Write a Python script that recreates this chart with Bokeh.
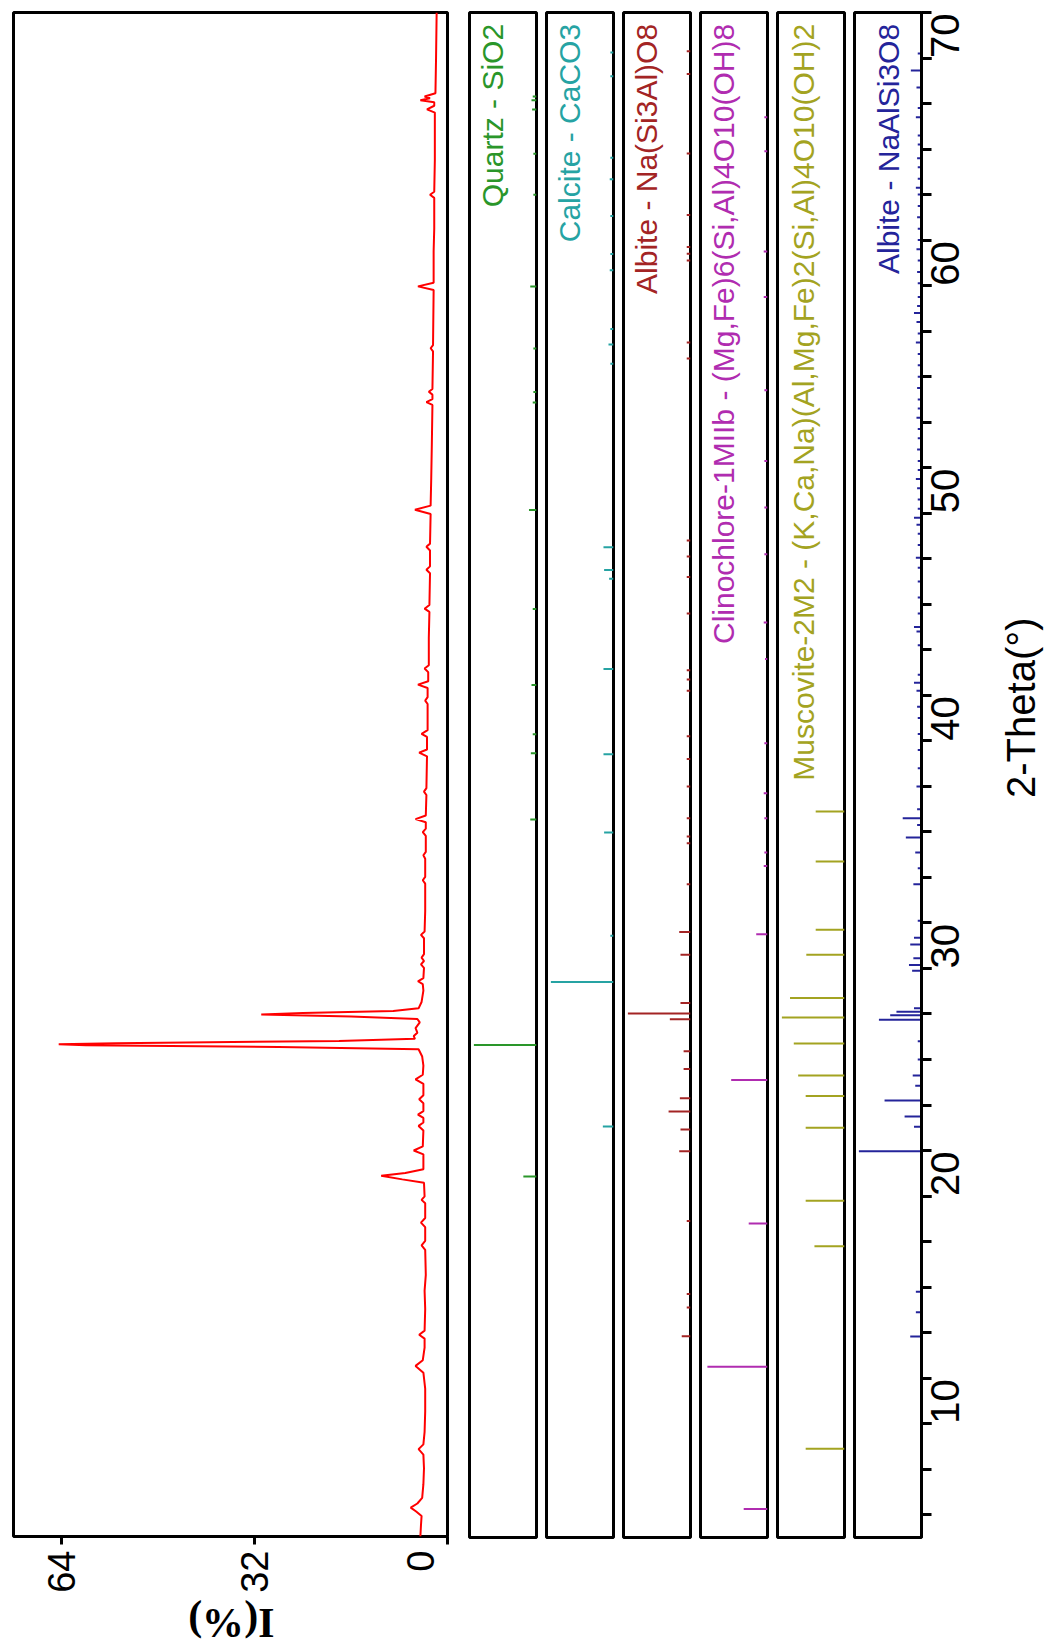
import math
from bokeh.plotting import figure
from bokeh.models import Range1d, Label, SingleIntervalTicker, FixedTicker
from bokeh.layouts import row, column
from bokeh.embed import file_html
from bokeh.resources import INLINE

# ---------------- measured pattern (2-Theta in degrees, intensity in %) ----------------
trace_2theta = [
    5.0, 5.5, 5.9, 6.1, 6.27, 6.45, 6.7, 7.3, 8.0, 8.6,
    8.84, 9.05, 9.6, 10.5, 11.5, 12.2, 12.5, 12.75, 13.3, 13.7,
    13.87, 14.05, 15.0, 15.8, 16.5, 17.6, 17.8, 18.0, 18.6, 18.8,
    19.0, 19.65, 19.8, 19.95, 20.55, 20.7, 20.86, 20.98, 21.15, 21.8,
    21.97, 22.15, 22.85, 23.05, 23.2, 23.4, 23.55, 23.7, 24.05, 24.22,
    24.4, 24.9, 25.1, 25.3, 25.7, 26.1, 26.42, 26.52, 26.6, 26.64,
    26.69, 26.78, 26.88, 27.0, 27.15, 27.35, 27.6, 27.75, 27.86, 27.95,
    28.02, 28.1, 28.22, 28.5, 29.0, 29.28, 29.41, 29.55, 30.0, 30.15,
    30.3, 30.45, 30.6, 31.3, 31.45, 31.6, 32.5, 33.7, 33.85, 34.0,
    34.8, 34.95, 35.1, 35.8, 35.97, 36.12, 36.4, 36.54, 36.7, 37.6,
    37.75, 37.9, 39.3, 39.46, 39.6, 40.15, 40.29, 40.45, 41.6, 41.75,
    41.9, 42.3, 42.45, 42.6, 43.0, 43.16, 43.3, 44.5, 45.65, 45.79,
    45.95, 47.35, 47.5, 47.65, 48.35, 48.51, 48.65, 49.95, 50.14, 50.32,
    51.5, 53.0, 54.75, 54.87, 55.0, 55.2, 55.33, 55.45, 57.1, 57.24,
    57.38, 59.8, 59.96, 60.12, 61.5, 62.5, 63.85, 63.99, 64.12, 65.5,
    67.6, 67.74, 67.9, 68.05, 68.14, 68.23, 68.31, 68.45, 70.0, 72.0,
]
trace_int = [
    4.5, 4.4, 4.3, 5.2, 6.1, 5.0, 4.2, 4.0, 3.9, 4.0,
    4.8, 4.0, 3.8, 3.7, 3.7, 4.0, 5.3, 4.1, 3.8, 3.8,
    4.7, 3.8, 3.7, 3.8, 3.6, 3.7, 4.3, 3.7, 3.7, 4.4,
    3.7, 3.7, 4.3, 3.8, 3.9, 7.5, 11.0, 7.0, 4.0, 4.0,
    5.6, 4.1, 4.0, 4.8, 4.0, 4.0, 4.9, 4.0, 4.0, 4.7,
    4.0, 4.0, 5.3, 4.1, 4.0, 4.2, 4.8, 28.0, 60.0, 64.5,
    55.0, 18.0, 5.4, 5.6, 5.0, 5.3, 4.6, 5.0, 16.0, 30.9,
    24.0, 9.0, 4.8, 4.3, 4.0, 4.1, 4.9, 4.0, 3.9, 4.4,
    3.9, 4.3, 3.9, 3.9, 4.4, 3.8, 3.7, 3.7, 4.1, 3.7,
    3.7, 4.0, 3.6, 3.6, 4.1, 3.6, 3.6, 5.3, 3.6, 3.5,
    3.9, 3.5, 3.4, 4.7, 3.4, 3.4, 4.3, 3.3, 3.3, 3.7,
    3.3, 3.3, 4.9, 3.2, 3.2, 3.8, 3.1, 3.1, 3.0, 3.8,
    3.0, 2.9, 3.5, 2.9, 2.9, 3.5, 2.9, 2.8, 5.4, 2.8,
    2.7, 2.6, 2.5, 3.5, 2.5, 2.5, 3.1, 2.5, 2.4, 2.8,
    2.4, 2.3, 4.9, 2.3, 2.3, 2.2, 2.2, 2.9, 2.2, 2.1,
    2.1, 3.4, 2.2, 2.2, 4.5, 2.9, 3.8, 2.0, 1.9, 1.8,
]

# ---------------- reference stick patterns (2-Theta, relative intensity) ----------------
quartz_2theta = [20.86, 26.64, 36.54, 39.46, 40.29, 42.45, 45.79, 50.14, 54.87, 55.33,
                 57.24, 59.96, 63.99, 65.79, 67.74, 68.14, 68.31]
quartz_int = [21, 100, 10, 9, 6, 8, 6, 12, 6, 5,
              5, 10, 5, 5, 7, 8, 6]

calcite_2theta = [23.06, 29.41, 31.44, 35.97, 39.41, 43.16, 47.12, 47.51, 48.51, 56.57,
                  57.41, 58.10, 60.68, 61.39, 63.06, 64.67, 65.62, 69.20, 70.24]
calcite_int = [17, 100, 5, 15, 16, 16, 7, 15, 16, 5,
               8, 5, 6, 5, 5, 6, 5, 5, 5]

albite1_2theta = [13.84, 15.1, 15.7, 18.9, 21.97, 22.92, 23.72, 24.3, 25.58, 26.36,
                  27.77, 28.02, 28.48, 30.6, 31.6, 33.7, 35.5, 35.8, 36.6, 38.0,
                  39.2, 40.2, 42.2, 42.7, 43.1, 45.6, 47.2, 48.1, 48.8, 56.8,
                  57.5, 61.1, 61.4, 61.7, 63.1, 65.8, 69.3, 70.3]
albite1_int = [14, 6, 6, 6, 18, 16, 35, 17, 11, 11,
               33, 100, 16, 16, 18, 6, 6, 6, 6, 6,
               6, 6, 6, 6, 6, 6, 6, 6, 6, 6,
               6, 6, 6, 6, 6, 6, 6, 6]

clino_2theta = [6.25, 12.5, 18.8, 25.1, 31.5, 34.5, 35.1, 36.6, 37.7, 39.9,
                43.6, 45.2, 48.2, 50.25, 52.3, 55.4, 59.5, 61.5, 65.9, 67.4]
clino_int = [38, 96, 30, 58, 18, 6, 5, 5, 6, 5,
             4, 6, 5, 5, 5, 5, 6, 6, 5, 5]

musc_2theta = [8.9, 17.8, 19.8, 23.0, 24.4, 25.3, 26.7, 27.85, 28.7, 30.6,
               31.7, 34.7, 36.9]
musc_int = [62, 48, 62, 62, 62, 74, 81, 100, 87, 61,
            46, 46, 46]

albite2_2theta = [13.83, 14.9, 15.8, 21.97, 23.05, 23.5, 24.2, 24.85, 25.3, 26.0,
                  26.8, 27.75, 27.95, 28.1, 28.25, 29.9, 30.15, 30.45, 31.05, 31.35,
                  32.1, 33.7, 34.4, 35.1, 35.75, 36.3, 36.6, 37.0, 38.0, 38.8,
                  39.6, 40.3, 41.0, 41.5, 42.2, 42.55, 42.9, 44.2, 44.8, 45.0,
                  45.6, 46.3, 47.0, 47.6, 48.05, 48.6, 49.1, 49.5, 49.8, 50.2,
                  50.6, 51.1, 51.5, 51.9, 52.3, 52.8, 53.3, 53.7, 54.2, 54.6,
                  55.0, 55.5, 56.0, 56.5, 57.0, 57.5, 57.9, 58.4, 58.8, 59.1,
                  59.5, 60.1, 60.6, 61.1, 61.6, 62.0, 62.5, 63.0, 63.5, 64.0,
                  64.3, 64.7, 65.2, 65.6, 66.2, 66.6, 67.4, 67.8, 68.7, 69.45,
                  70.2]
albite2_int = [18, 9, 9, 100, 12, 27, 59, 10, 14, 6,
               6, 68, 50, 40, 12, 15, 20, 13, 18, 12,
               6, 13, 6, 10, 25, 7, 30, 7, 8, 6,
               6, 6, 6, 7, 8, 12, 6, 6, 8, 12,
               6, 6, 6, 6, 9, 6, 6, 8, 12, 6,
               6, 7, 9, 6, 6, 7, 6, 6, 8, 6,
               6, 7, 6, 6, 6, 9, 6, 8, 12, 7,
               6, 6, 7, 6, 8, 6, 6, 7, 6, 6,
               9, 6, 6, 7, 6, 6, 9, 6, 8, 17,
               6]

phase_labels = ["Quartz - SiO2", "Calcite - CaCO3", "Albite - Na(Si3Al)O8",
                "Clinochlore-1MIIb - (Mg,Fe)6(Si,Al)4O10(OH)8",
                "Muscovite-2M2 - (K,Ca,Na)(Al,Mg,Fe)2(Si,Al)4O10(OH)2",
                "Albite - NaAlSi3O8"]
phase_colors = ["#2a962a", "#26a3a3", "#a32424", "#b02cb0", "#a3a321", "#24249a"]

# intensity axis: tick marks at 0, 32, 64; the "0" label sits a little inside the panel
intensity_tick_marks = [0, 32, 64]
intensity_label_pos = [4.5, 32, 64]
intensity_tick_labels = {4.5: "0", 32: "32", 64: "64"}

x_title = "2-Theta(°)"
y_title = "I(%)"

# ---------------- layout / style ----------------
H = 1649
TOP = 12
FRAME_H = 1525
BOTTOM = H - TOP - FRAME_H          # 112
MAIN_BOTTOM = 58
ITITLE_H = BOTTOM - MAIN_BOTTOM     # 54
Y_RANGE = Range1d(5.0, 72.0)
PX_PER_DEG = FRAME_H / (72.0 - 5.0)
FONT = "Liberation Sans"


def style(p):
    p.xgrid.grid_line_color = None
    p.ygrid.grid_line_color = None
    p.background_fill_color = "white"
    p.border_fill_color = "white"
    return p


def base_fig(width, height, x_range, left, right, bottom, y_axis=None, x_axis=None):
    p = figure(width=width, height=height, x_range=x_range, y_range=Y_RANGE,
               output_backend="svg", toolbar_location=None, tools="",
               min_border_left=left, min_border_right=right,
               min_border_top=TOP, min_border_bottom=bottom,
               x_axis_location=x_axis, y_axis_location=y_axis)
    style(p)
    p.outline_line_color = "black"
    p.outline_line_width = 3
    p.outline_line_alpha = 1
    return p


def blank_fig(width, height, x_range, y_range):
    p = figure(width=width, height=height, x_range=x_range, y_range=y_range,
               output_backend="svg", toolbar_location=None, tools="",
               min_border=0, x_axis_location=None, y_axis_location=None)
    style(p)
    p.outline_line_color = None
    return p


# main pattern panel (intensity increases to the left)
MAIN_W = 458
main = base_fig(MAIN_W, TOP + FRAME_H + MAIN_BOTTOM, Range1d(72, 0), 13, 11, MAIN_BOTTOM,
                y_axis=None, x_axis="below")
main.line(trace_int, trace_2theta, line_color="#ff0000", line_width=2)
ax = main.xaxis[0]
ax.ticker = FixedTicker(ticks=intensity_label_pos, minor_ticks=intensity_tick_marks)
ax.major_label_overrides = intensity_tick_labels
ax.major_label_orientation = math.pi / 2
ax.major_label_text_font = FONT
ax.major_label_text_font_size = "38px"
ax.major_label_text_color = "black"
ax.major_label_standoff = 6
ax.major_tick_line_color = None
ax.major_tick_out = 8
ax.major_tick_in = 0
ax.minor_tick_out = 8
ax.minor_tick_in = 0
ax.minor_tick_line_width = 3
ax.minor_tick_line_color = "black"
ax.axis_line_color = None

# strip under the main panel holding the intensity title (same intensity scale)
px_per_int = 434 / 72.0
ititle = blank_fig(MAIN_W, ITITLE_H,
                   Range1d(72 + 13 / px_per_int, 0 - 11 / px_per_int), Range1d(0, 1))
ititle.add_layout(Label(x=36.0, y=0.5, text=y_title, angle=math.pi,
                        text_align="center", text_baseline="middle",
                        text_font="Liberation Serif", text_font_style="bold",
                        text_font_size="42px", text_color="black"))

stick_sets = [
    (quartz_2theta, quartz_int),
    (calcite_2theta, calcite_int),
    (albite1_2theta, albite1_int),
    (clino_2theta, clino_int),
    (musc_2theta, musc_int),
    (albite2_2theta, albite2_int),
]
label_x = [71, 70, 70, 70, 66, 53]

figs = [column(main, ititle, spacing=0)]
RIGHT_AXIS_W = 74
for i, ((pos, inten), name, color) in enumerate(zip(stick_sets, phase_labels, phase_colors)):
    last = i == len(stick_sets) - 1
    left = 11 if i == 0 else 5
    right = RIGHT_AXIS_W if last else 5
    width = left + 67 + right
    p = base_fig(width, H, Range1d(107, 0), left, right, BOTTOM,
                 y_axis="right" if last else None, x_axis=None)
    p.segment(x0=[0] * len(pos), x1=inten, y0=pos, y1=pos,
              line_color=color, line_width=2)
    p.add_layout(Label(x=label_x[i], y=71.5, text=name, angle=math.pi / 2,
                       text_align="right", text_baseline="middle",
                       text_font=FONT, text_font_size="30px", text_color=color))
    if last:
        ya = p.yaxis[0]
        ya.ticker = SingleIntervalTicker(interval=10, num_minor_ticks=5)
        ya.major_label_orientation = math.pi / 2
        ya.major_label_text_font = FONT
        ya.major_label_text_font_size = "40px"
        ya.major_label_text_color = "black"
        ya.major_label_standoff = 14
        ya.major_tick_out = 10
        ya.major_tick_in = 0
        ya.minor_tick_out = 10
        ya.minor_tick_in = 0
        ya.major_tick_line_width = 3
        ya.minor_tick_line_width = 3
        ya.major_tick_line_color = "black"
        ya.minor_tick_line_color = "black"
        ya.axis_line_width = 3
        ya.axis_line_color = "black"
    figs.append(p)

# strip right of the last panel holding the 2-Theta title (same 2-Theta scale)
used_w = MAIN_W + (11 + 67 + 5) + 4 * (5 + 67 + 5) + (5 + 67 + RIGHT_AXIS_W)
XT_W = 1045 - used_w
xtitle = blank_fig(XT_W, H, Range1d(0, 1),
                   Range1d(5.0 - BOTTOM / PX_PER_DEG, 72.0 + TOP / PX_PER_DEG))
xtitle.add_layout(Label(x=0.5, y=39.5, text=x_title, angle=math.pi / 2,
                        text_align="center", text_baseline="middle",
                        text_font=FONT, text_font_size="40px", text_color="black"))
figs.append(xtitle)

layout = row(*figs, spacing=0)
open("out.html", "w").write(file_html(layout, INLINE))
